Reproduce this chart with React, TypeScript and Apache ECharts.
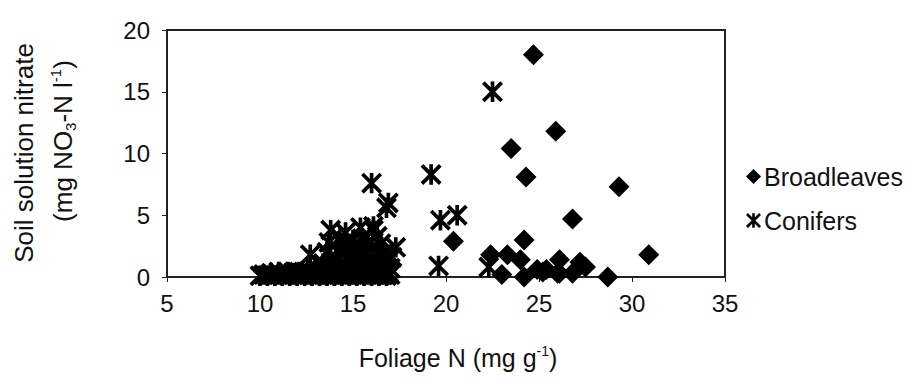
import React, { useEffect, useRef } from "react";
import * as echarts from "echarts";

const broadleavesX = [24.7, 25.9, 23.5, 24.3, 29.3, 26.8, 30.9, 28.7, 20.4, 24.2, 22.4, 23.3, 24.0, 23.0, 24.2, 25.2, 26.1, 27.2, 26.1, 26.8, 24.9, 25.4, 26.0, 27.5];
const broadleavesY = [18.0, 11.8, 10.4, 8.1, 7.3, 4.7, 1.8, 0.0, 2.9, 3.0, 1.8, 1.8, 1.4, 0.2, 0.0, 0.4, 1.4, 1.2, 0.3, 0.3, 0.6, 0.6, 0.3, 0.8];

const conifersX = [22.5, 19.2, 19.7, 20.6, 19.6, 22.3, 16.0, 16.9,
  13.8, 14.6, 15.4, 16.1, 14.2, 14.9, 13.6, 16.5, 17.3, 12.7, 13.8, 15.5, 16.0, 16.8, 17.0, 14.4, 15.2, 13.0, 14.0, 15.6, 16.4, 16.1, 16.8,
  14.3, 15.0, 15.8, 16.3, 16.7, 14.7, 15.3, 13.4, 14.1, 15.9, 16.6, 17.1, 13.3, 14.8, 15.4, 16.2,
  14.5, 15.2, 15.7, 16.4, 14.0, 15.0, 16.0, 16.9, 13.7, 14.6, 15.5,
  10.0, 10.2, 10.4, 10.6, 10.8, 11.0, 11.2, 11.4, 11.6, 11.8, 12.0, 12.2, 12.4, 12.6, 12.8, 13.0, 13.2, 13.4, 13.6, 13.8,
  14.0, 14.2, 14.4, 14.6, 14.8, 15.0, 15.2, 15.4, 15.6, 15.8, 16.0, 16.2, 16.4, 16.6, 16.8, 17.0,
  11.0, 11.5, 12.1, 12.7, 13.3, 13.9, 14.5, 15.1, 15.7, 16.3, 16.9];
const conifersY = [15.0, 8.3, 4.6, 5.0, 0.9, 0.8, 7.6, 6.0,
  3.8, 3.6, 4.0, 3.8, 2.2, 2.4, 2.0, 2.7, 2.4, 1.8, 1.6, 2.0, 1.5, 1.2, 0.7, 1.0, 0.9, 0.6, 0.5, 0.6, 0.4, 4.1, 5.6,
  3.2, 3.0, 2.8, 3.3, 2.0, 1.6, 1.3, 1.1, 1.4, 1.0, 0.9, 1.6, 0.3, 0.7, 0.4, 0.8,
  2.6, 2.2, 1.8, 1.9, 1.2, 1.4, 2.4, 1.8, 2.8, 2.9, 3.1,
  0.1, 0.2, 0.1, 0.3, 0.1, 0.2, 0.1, 0.3, 0.1, 0.2, 0.1, 0.3, 0.1, 0.2, 0.1, 0.3, 0.1, 0.2, 0.1, 0.3,
  0.1, 0.2, 0.1, 0.3, 0.1, 0.2, 0.1, 0.3, 0.1, 0.2, 0.1, 0.3, 0.1, 0.2, 0.1, 0.2,
  0.4, 0.4, 0.4, 0.4, 0.5, 0.4, 0.4, 0.5, 0.4, 0.5, 0.4];

const xMin = 5, xMax = 35, xStep = 5;
const yMin = 0, yMax = 20, yStep = 5;

const seriesNames = ["Broadleaves", "Conifers"];

const ASTER =
  "path://M8.2 0 L11.8 0 L11.8 20 L8.2 20 Z " +
  "M2.3 -0.3 L20.3 17.7 L17.7 20.3 L-0.3 2.3 Z " +
  "M17.7 -0.3 L20.3 2.3 L2.3 20.3 L-0.3 17.7 Z";

const FONT = "'Liberation Sans', Arial, Helvetica, sans-serif";

export default function App() {
  const ref = useRef<HTMLDivElement>(null);
  useEffect(() => {
    if (!ref.current) return;
    const chart = echarts.init(ref.current, undefined, { renderer: "svg" });
    const bl = broadleavesX.map((x, i) => [x, broadleavesY[i]]);
    const cf = conifersX.map((x, i) => [x, conifersY[i]]);
    const txt = "#111";
    chart.setOption({
      animation: false,
      backgroundColor: "#fff",
      textStyle: { fontFamily: FONT },
      grid: {
        left: 167, right: 189, top: 30, bottom: 105,
        show: true, borderColor: "#222", borderWidth: 2, backgroundColor: "transparent",
      },
      legend: {
        orient: "vertical",
        left: 741,
        top: 159,
        itemWidth: 15,
        itemHeight: 15,
        itemGap: 19,
        textStyle: { fontSize: 25, color: txt, fontFamily: FONT, padding: [0, 0, 0, -2] },
        data: [
          { name: seriesNames[0], icon: "diamond" },
          { name: seriesNames[1], icon: ASTER },
        ],
      },
      xAxis: {
        type: "value",
        min: xMin, max: xMax, interval: xStep,
        axisLine: { show: true, lineStyle: { color: "#222", width: 2 } },
        axisTick: { show: true, length: 5, lineStyle: { color: "#222", width: 1 } },
        splitLine: { show: false },
        axisLabel: { fontSize: 24, color: txt, margin: 14, fontFamily: FONT },
        name: "Foliage N (mg g{sup|-1})",
        nameLocation: "middle",
        nameGap: 67,
        nameTextStyle: {
          fontSize: 25, color: txt, fontFamily: FONT, padding: [0, 0, 0, 24], lineHeight: 28,
          rich: { sup: { fontSize: 14, verticalAlign: "top", lineHeight: 14, color: txt, fontFamily: FONT } },
        },
      },
      yAxis: {
        type: "value",
        min: yMin, max: yMax, interval: yStep,
        axisLine: { show: true, lineStyle: { color: "#222", width: 2 } },
        axisTick: { show: true, length: 5, lineStyle: { color: "#222", width: 1 } },
        splitLine: { show: false },
        axisLabel: { fontSize: 24, color: txt, margin: 17, fontFamily: FONT },
      },
      graphic: [
        {
          type: "text",
          x: 24, y: 153, rotation: Math.PI / 2,
          style: {
            text: "Soil solution nitrate",
            fontSize: 26, fill: txt, fontFamily: FONT, align: "center", verticalAlign: "middle",
          },
        },
        {
          type: "text",
          x: 63, y: 141, rotation: Math.PI / 2,
          style: {
            text: "(mg NO{sub|3}-N l{sup|-1})",
            fontSize: 26, fill: txt, fontFamily: FONT, align: "center", verticalAlign: "middle",
            lineHeight: 30,
            rich: {
              sub: { fontSize: 15, verticalAlign: "bottom", lineHeight: 15, fill: txt, fontFamily: FONT },
              sup: { fontSize: 15, verticalAlign: "top", lineHeight: 15, fill: txt, fontFamily: FONT },
            },
          },
        },
      ],
      series: [
        {
          name: seriesNames[0], type: "scatter", data: bl,
          symbol: "diamond", symbolSize: 21,
          itemStyle: { color: "#000", opacity: 1 },
          z: 3,
        },
        {
          name: seriesNames[1], type: "scatter", data: cf,
          symbol: ASTER, symbolSize: 21,
          itemStyle: { color: "#000", opacity: 1 },
          z: 4,
        },
      ],
    });
    return () => chart.dispose();
  }, []);
  return <div ref={ref} style={{ width: 914, height: 382, position: "absolute", left: 0, top: 0 }} />;
}
